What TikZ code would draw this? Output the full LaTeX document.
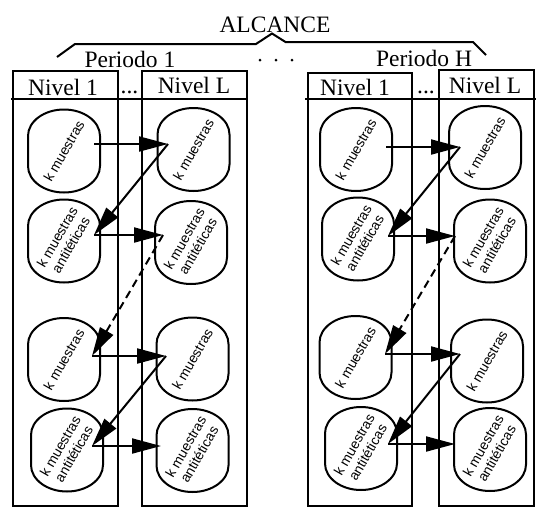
\documentclass[tikz,border=0pt]{standalone}
\usepackage{fontspec}
\setmainfont{Liberation Serif}
\newfontfamily\arialf{Liberation Sans}
\usetikzlibrary{arrows.meta,calc}
\tikzset{
  lw/.style={line width=2pt},
  boxline/.style={lw, draw=black},
  hdr/.style={anchor=base, inner sep=0pt, font=\fontsize{23.5}{26}\selectfont},
  capsnode/.style={inner sep=0pt, minimum width=72pt, minimum height=83pt},
  captext/.style={rotate=60, align=center, inner sep=0pt, font=\arialf\fontsize{13.8}{15.5}\selectfont},
  conn/.style={lw, -{Triangle[length=29pt,width=15pt]}},
  dconn/.style={conn, dash pattern=on 8pt off 5pt},
}
\newcommand\capoutline[1]{%
  \draw[lw] ($(#1)+(-36,15)$) arc[start angle=180,end angle=0,x radius=36,y radius=26.5]
    -- ++(0,-30) arc[start angle=0,end angle=-180,x radius=36,y radius=26.5] -- cycle;}
\begin{document}
\begin{tikzpicture}[x=1pt,y=1pt]
\useasboundingbox (0,0) rectangle (536,-507);
% titles
\node[hdr] (alc) at (275,-32) {ALCANCE};
\node[hdr] (p1) at (130,-67) {Periodo 1};
\node[hdr] (pH) at (424,-66) {Periodo H};
\draw[lw] (57,-57) -- (75,-44) -- (256,-44) -- (272,-33.5) -- (285.5,-42) -- (473,-42) -- (486,-55);
\foreach \x in {260,276,292} \fill (\x,-60) circle (1.5);
% boxes left period
\draw[boxline] (13,-71) rectangle (118,-506);
\draw[boxline] (142,-71) rectangle (247,-506);
\draw[lw] (11,-99) -- (248,-99);
\node[hdr] (n11) at (63,-95) {Nivel 1};
\node[hdr] (n1L) at (194,-93.3) {Nivel L};
\node[hdr] (d1) at (129.5,-93) {...};
% boxes right period
\draw[boxline] (308,-73) rectangle (412,-506);
\draw[boxline] (439,-70) rectangle (534,-506);
\draw[lw] (305,-99) -- (536,-99);
\node[hdr] (nH1) at (355,-95) {Nivel 1};
\node[hdr] (nHL) at (485,-93.3) {Nivel L};
\node[hdr] (dH) at (426,-93) {...};
% capsules
\node[capsnode] (L1) at (64,-151) {}; \node[capsnode] (L2) at (64,-241) {};
\node[capsnode] (L3) at (64,-359.5) {}; \node[capsnode] (L4) at (67,-450) {};
\node[capsnode] (M1) at (193.5,-149.5) {}; \node[capsnode] (M2) at (191,-242.5) {};
\node[capsnode] (M3) at (192.5,-359) {}; \node[capsnode] (M4) at (192.5,-450.5) {};
\node[capsnode] (R1) at (356,-149.5) {}; \node[capsnode] (R2) at (358,-239) {};
\node[capsnode] (R3) at (355.5,-357.5) {}; \node[capsnode] (R4) at (361,-448.5) {};
\node[capsnode] (S1) at (485,-147.5) {}; \node[capsnode] (S2) at (490,-241) {};
\node[capsnode] (S3) at (487,-361) {}; \node[capsnode] (S4) at (490,-449.5) {};
\foreach \n in {L1,L2,L3,L4,M1,M2,M3,M4,R1,R2,R3,R4,S1,S2,S3,S4} {\capoutline{\n}}
\foreach \n in {L1,L3,M1,M3,R1,R3,S1,S3}
  \node[captext] at (\n) {k muestras};
\foreach \n in {L2,L4,M2,M4,R2,R4,S2,S4}
  \node[captext] at (\n) {k muestras\\antitéticas};
% connector points
\coordinate (la1) at (94,-144); \coordinate (lb1) at (168,-144);
\coordinate (la2) at (94,-235); \coordinate (lb2) at (163,-235);
\coordinate (la3) at (92,-356); \coordinate (lb3) at (166,-356);
\coordinate (la4) at (92,-446); \coordinate (lb4) at (161,-446);
\coordinate (ra1) at (386,-147); \coordinate (rb1) at (460,-147);
\coordinate (ra2) at (388,-236); \coordinate (rb2) at (455,-236);
\coordinate (ra3) at (385,-354); \coordinate (rb3) at (460,-354);
\coordinate (ra4) at (388,-444); \coordinate (rb4) at (455,-444);
% connectors left
\draw[conn] (la1) -- (lb1);
\draw[conn] (lb1) -- (la2);
\draw[conn] (la2) -- (lb2);
\draw[dconn] (lb2) -- (la3);
\draw[conn] (la3) -- (lb3);
\draw[conn] (lb3) -- (la4);
\draw[conn] (la4) -- (lb4);
% connectors right
\draw[conn] (ra1) -- (rb1);
\draw[conn] (rb1) -- (ra2);
\draw[conn] (ra2) -- (rb2);
\draw[dconn] (rb2) -- (ra3);
\draw[conn] (ra3) -- (rb3);
\draw[conn] (rb3) -- (ra4);
\draw[conn] (ra4) -- (rb4);
\end{tikzpicture}
\end{document}
